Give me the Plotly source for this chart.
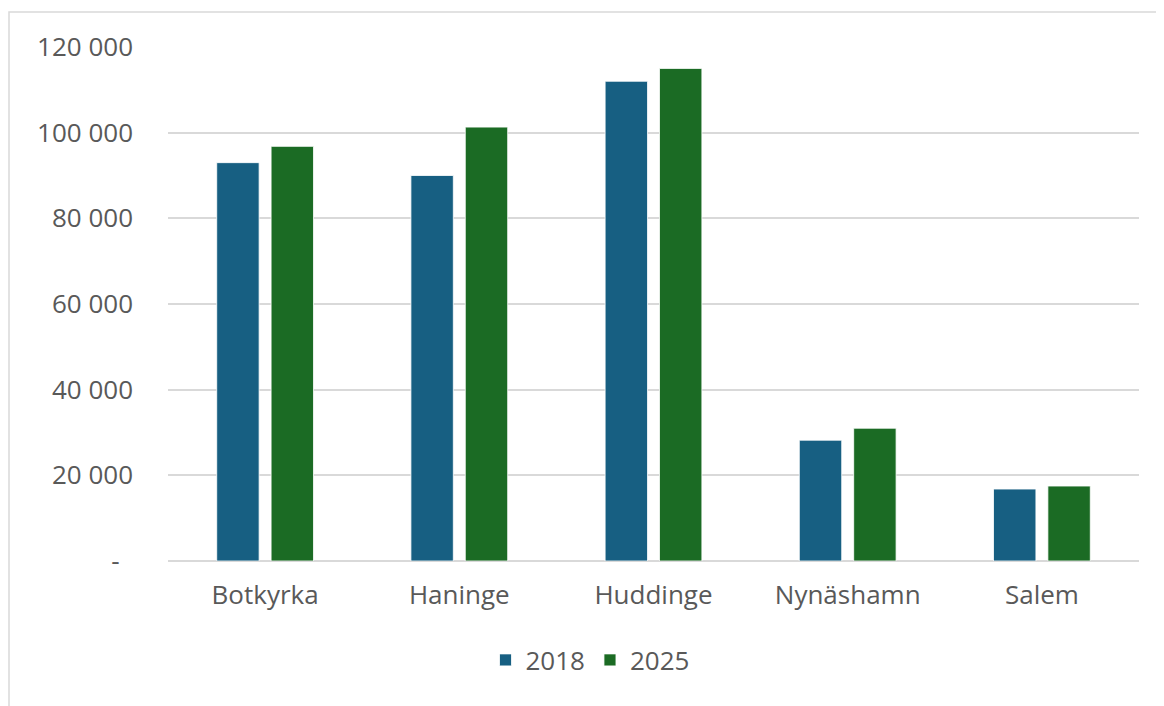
import plotly.graph_objects as go

categories = ["Botkyrka", "Haninge", "Huddinge", "Nynäshamn", "Salem"]
values_2018 = [93000, 90000, 112000, 28200, 16800]
values_2025 = [96800, 101300, 115000, 31000, 17500]
tick_vals = [0, 20000, 40000, 60000, 80000, 100000, 120000]
tick_text = ["-\u00a0\u00a0", "20 000", "40 000", "60 000", "80 000", "100 000", "120 000"]

W, H = 1164, 706
L, R, T, B = 160, 33, 39, 153
pw = W - L - R
ph = H - T - B

fig = go.Figure()
fig.add_trace(go.Bar(name="2018", x=categories, y=values_2018,
                     marker=dict(color="#175F82", line=dict(color="#FFFFFF", width=0.8))))
fig.add_trace(go.Bar(name="2025", x=categories, y=values_2025,
                     marker=dict(color="#1B6B24", line=dict(color="#FFFFFF", width=0.8))))

# outer chart-area border (light grey), extends past right and bottom edges
fig.add_shape(type="rect", xref="paper", yref="paper",
              x0=(1 - L) / pw, x1=(W + 20 - L) / pw,
              y0=-(B + 20) / ph, y1=(ph + T - 4) / ph,
              line=dict(color="#D9D9D9", width=1.5), fillcolor="rgba(0,0,0,0)", layer="below")

FS = 26
fig.update_layout(
    width=W, height=H,
    margin=dict(l=L, r=R, t=T, b=B, pad=0),
    plot_bgcolor="white", paper_bgcolor="white",
    barmode="group", bargap=0.44, bargroupgap=0.22,
    font=dict(family="Open Sans, Roboto, sans-serif", color="#595959", size=FS),
    showlegend=True,
    legend=dict(orientation="h", xref="container", yref="container",
                x=0.5, xanchor="center", y=1 - 652 / H, yanchor="middle",
                font=dict(size=FS, color="#595959"), traceorder="normal",
                itemwidth=30),
    xaxis=dict(showgrid=False, showline=False, ticks="",
               tickfont=dict(size=FS, color="#595959"), ticklabelstandoff=16),
    yaxis=dict(range=[0, 120000], tickvals=tick_vals, ticktext=tick_text,
               showgrid=True, gridcolor="#D9D9D9", gridwidth=1.5,
               zeroline=True, zerolinecolor="#D9D9D9", zerolinewidth=1.5,
               showline=False, ticks="", ticklabelstandoff=34,
               tickfont=dict(size=FS, color="#595959")),
)

fig.write_html("out.html")
